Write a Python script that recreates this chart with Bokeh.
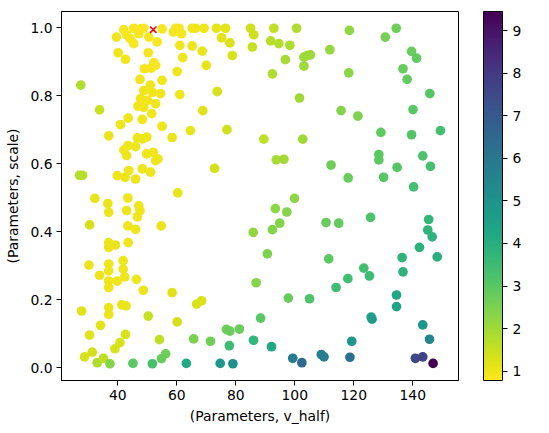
import numpy as np
from bokeh.plotting import figure
from bokeh.models import (ColumnDataSource, LinearColorMapper, ColorBar, FixedTicker,
                          Range1d, Label, NumeralTickFormatter)
from bokeh.palettes import Viridis256
from bokeh.embed import file_html
from bokeh.resources import INLINE

# ---- data ----
v_half = [
    39.5, 42.0, 43.0, 45.4, 44.1, 45.4, 47.1, 48.8, 50.5, 53.3, 47.7, 40.1, 42.6, 50.3, 52.2, 49.0, 51.3,
    47.5, 51.0, 48.8, 51.7, 47.7, 50.0, 46.8, 48.8, 51.5, 40.9, 43.5, 48.3, 36.9, 46.6, 49.8, 33.8, 27.4,
    55.0, 59.6, 60.7, 58.8, 61.6, 65.2, 66.3, 69.2, 73.4, 76.5, 85.0, 92.9, 100.6, 75.2, 78.0, 86.1, 85.6,
    91.8, 94.6, 98.3, 61.0, 65.2, 68.6, 78.8, 62.0, 70.0, 96.8, 103.1, 104.2, 103.1, 92.4, 60.1, 52.8,
    55.0, 54.5, 52.8, 61.0, 73.7, 101.6, 68.8, 55.0, 64.6, 77.0, 58.4, 89.5, 102.7,
    118.5, 134.4, 130.7, 111.9, 105.3, 139.6, 141.3, 118.3, 136.7, 138.1, 145.8, 115.7, 121.4, 140.1,
    129.2, 139.6, 149.4,
    128.5, 128.5, 143.4, 112.3, 134.7, 146.0, 118.1, 130.1, 140.3, 125.7, 110.6, 114.9, 145.4, 145.1,
    146.6, 142.3, 111.5, 136.4, 148.3, 123.4, 136.7,
    125.3, 118.0, 114.0, 105.0, 134.5, 134.5, 125.9, 126.2, 143.4, 119.3, 145.7, 109.0, 109.9, 118.7,
    102.4, 140.9, 143.4, 146.9,
    58.4, 50.3, 60.1, 66.7, 68.4, 86.9, 97.8, 88.4, 54.1, 65.7, 71.4, 76.8, 78.0, 81.2, 77.8, 86.0, 92.1,
    56.2, 54.8, 51.7, 63.2, 74.7, 79.0, 99.3,
    30.2, 36.9, 36.9, 41.8, 41.8, 33.8, 36.9, 36.9, 39.8, 42.3, 46.3, 48.6, 27.7, 36.9, 36.9, 41.3, 42.8,
    34.1, 30.4, 42.6, 40.7, 39.0, 28.7, 31.3, 33.0, 35.1, 37.3, 45.1,
    42.0, 43.4, 43.0, 48.3, 46.0, 49.7, 52.0, 52.8, 53.6, 27.0, 28.0, 39.8, 42.4, 43.7, 46.0, 48.3, 51.1,
    32.2, 36.6, 36.9, 43.4, 47.1, 47.5, 46.6, 43.0, 30.4, 43.4, 46.0, 54.7, 36.9, 36.9, 39.2, 43.5,
    93.7, 96.3, 72.8, 60.3, 99.9, 93.4, 97.3, 94.9, 85.9, 92.4, 90.7,
]
scale = [
    0.972, 0.994, 0.979, 0.998, 0.968, 0.953, 0.982, 0.998, 0.972, 0.958, 0.996, 0.926, 0.907, 0.926, 0.897, 0.879, 0.881,
    0.848, 0.831, 0.815, 0.810, 0.791, 0.786, 0.769, 0.766, 0.747, 0.715, 0.734, 0.730, 0.682, 0.676, 0.678, 0.758, 0.831,
    0.996, 0.998, 0.998, 0.987, 0.982, 0.998, 0.998, 0.998, 0.998, 0.998, 0.998, 0.998, 0.998, 0.970, 0.955, 0.979, 0.943,
    0.961, 0.953, 0.948, 0.948, 0.946, 0.931, 0.918, 0.912, 0.889, 0.906, 0.913, 0.918, 0.887, 0.864, 0.871, 0.889,
    0.845, 0.806, 0.776, 0.803, 0.812, 0.793, 0.756, 0.710, 0.697, 0.700, 0.677, 0.672, 0.672,
    0.992, 0.998, 0.972, 0.935, 0.920, 0.930, 0.910, 0.867, 0.879, 0.848, 0.806, 0.756, 0.740, 0.759,
    0.692, 0.685, 0.697,
    0.627, 0.611, 0.623, 0.596, 0.589, 0.592, 0.558, 0.560, 0.532, 0.442, 0.427, 0.425, 0.436, 0.405,
    0.385, 0.354, 0.320, 0.324, 0.326, 0.293, 0.282,
    0.270, 0.262, 0.236, 0.203, 0.214, 0.180, 0.149, 0.143, 0.126, 0.078, 0.084, 0.039, 0.032, 0.031,
    0.015, 0.028, 0.032, 0.013,
    0.221, 0.152, 0.135, 0.187, 0.197, 0.250, 0.205, 0.146, 0.083, 0.085, 0.078, 0.113, 0.108, 0.114, 0.065, 0.081, 0.062,
    0.041, 0.027, 0.012, 0.013, 0.013, 0.012, 0.028,
    0.302, 0.305, 0.285, 0.315, 0.290, 0.272, 0.255, 0.236, 0.255, 0.267, 0.260, 0.228, 0.167, 0.177, 0.157, 0.185, 0.182,
    0.125, 0.096, 0.098, 0.074, 0.056, 0.032, 0.046, 0.015, 0.028, 0.012, 0.013,
    0.640, 0.653, 0.624, 0.673, 0.650, 0.629, 0.633, 0.609, 0.614, 0.566, 0.566, 0.565, 0.560, 0.580, 0.555, 0.585, 0.575,
    0.498, 0.483, 0.457, 0.499, 0.476, 0.462, 0.444, 0.462, 0.420, 0.417, 0.407, 0.417, 0.368, 0.354, 0.361, 0.368,
    0.611, 0.613, 0.586, 0.514, 0.498, 0.468, 0.458, 0.425, 0.398, 0.406, 0.335,
]
cost = [
    0.95, 0.9, 0.9, 0.85, 0.9, 0.9, 0.85, 0.78, 0.85, 0.85, 0.82, 0.95, 0.95, 0.9, 0.9, 0.9, 0.9,
    0.95, 0.95, 0.95, 0.95, 0.95, 0.95, 0.95, 0.95, 0.95, 1.0, 1.0, 1.0, 1.05, 1.0, 1.0, 1.5, 1.8,
    0.85, 0.9, 0.9, 0.9, 0.9, 0.95, 0.95, 1.0, 1.1, 1.15, 1.4, 1.6, 1.8, 1.15, 1.25, 1.45, 1.5,
    1.7, 1.75, 1.85, 0.95, 1.0, 1.05, 1.3, 1.0, 1.1, 1.9, 2.0, 2.0, 2.05, 1.8, 1.0, 0.9,
    0.95, 0.95, 0.95, 1.0, 1.3, 2.0, 1.2, 1.0, 1.1, 1.4, 1.05, 1.6, 2.0,
    2.25, 2.7, 2.6, 2.15, 2.05, 2.8, 2.85, 2.3, 2.8, 2.85, 3.05, 2.4, 2.5, 3.0,
    2.9, 3.15, 3.35,
    2.95, 2.95, 3.2, 2.65, 3.1, 3.35, 2.8, 3.05, 3.35, 3.2, 2.8, 2.85, 3.7, 3.8,
    3.85, 3.9, 2.95, 3.8, 4.0, 3.4, 3.85,
    3.5, 3.4, 3.45, 3.2, 4.3, 4.4, 4.6, 4.6, 4.95, 4.85, 5.5, 5.7, 5.75, 6.2,
    6.5, 7.6, 7.7, 9.45,
    1.2, 1.5, 1.35, 1.25, 1.25, 2.4, 2.8, 3.0, 1.6, 2.5, 2.7, 2.7, 2.75, 2.75, 3.5, 3.7, 4.3,
    2.7, 2.8, 3.3, 4.2, 4.9, 5.1, 5.9,
    1.05, 1.0, 1.0, 1.0, 1.0, 1.05, 1.0, 1.0, 1.0, 1.0, 1.0, 1.05, 1.2, 1.05, 1.05, 1.05, 1.05,
    1.15, 1.2, 1.3, 1.3, 1.3, 1.3, 1.35, 1.8, 1.6, 2.4, 3.0,
    1.0, 1.0, 1.0, 1.0, 1.0, 1.0, 1.0, 1.0, 1.0, 1.75, 1.7, 1.0, 1.0, 1.0, 1.0, 1.0, 1.0,
    1.1, 1.05, 1.05, 1.0, 1.0, 1.0, 1.0, 1.0, 1.35, 1.0, 1.0, 1.05, 1.05, 1.05, 1.05, 1.0,
    1.9, 1.95, 1.35, 1.1, 2.3, 2.25, 2.35, 2.4, 2.2, 2.4, 2.5,
]
best_v_half = [52.0]
best_scale = [0.994]

x_ticks = [40, 60, 80, 100, 120, 140]
y_ticks = [0.0, 0.2, 0.4, 0.6, 0.8, 1.0]
cbar_ticks = [1, 2, 3, 4, 5, 6, 7, 8, 9]

x_label = "(Parameters, v_half)"
y_label = "(Parameters, scale)"
cbar_label = "('Calibration', 'Cost Function')"

FONT = "DejaVu Sans"
FS = "13.9px"

# ranges with 5% margins like matplotlib autoscale
xmin, xmax = min(v_half), max(v_half)
ymin, ymax = min(scale), max(scale)
xpad = 0.05 * (xmax - xmin)
ypad = 0.05 * (ymax - ymin)

src = ColumnDataSource(dict(v_half=v_half, scale=scale, cost=cost))
mapper = LinearColorMapper(palette=list(reversed(Viridis256)), low=min(cost), high=max(cost))

p = figure(width=549, height=433, output_backend="svg", toolbar_location=None,
           x_range=Range1d(xmin - xpad, xmax + xpad), y_range=Range1d(ymin - ypad, ymax + ypad),
           min_border_left=61, min_border_right=91, min_border_top=11, min_border_bottom=53)
p.grid.visible = False
p.outline_line_color = "black"
p.outline_line_alpha = 1.0
p.outline_line_width = 1
p.background_fill_color = "white"
p.border_fill_color = "white"

for ax in (p.xaxis[0], p.yaxis[0]):
    ax.major_tick_out = 5
    ax.major_tick_in = 0
    ax.minor_tick_out = 0
    ax.minor_tick_in = 0
    ax.major_label_standoff = 4
    ax.major_label_text_font = FONT
    ax.major_label_text_font_size = FS
    ax.major_label_text_color = "black"
    ax.axis_label_text_font = FONT
    ax.axis_label_text_font_size = FS
    ax.axis_label_text_font_style = "normal"
    ax.axis_label_text_color = "black"
    ax.axis_line_color = "black"
    ax.major_tick_line_color = "black"

p.xaxis.ticker = FixedTicker(ticks=x_ticks)
p.yaxis.ticker = FixedTicker(ticks=y_ticks)
p.yaxis.formatter = NumeralTickFormatter(format="0.0")
p.xaxis.axis_label = x_label
p.yaxis.axis_label = y_label
p.xaxis.axis_label_standoff = 5
p.yaxis.axis_label_standoff = 6

p.scatter(x="v_half", y="scale", source=src, size=9.7,
          fill_color={"field": "cost", "transform": mapper}, line_color=None)
p.scatter(x=best_v_half, y=best_scale, marker="x", size=9, line_color="red", line_width=1.6)

cb = ColorBar(color_mapper=mapper, location=(422, 0), width=19, height=369,
              padding=0, margin=0, ticker=FixedTicker(ticks=cbar_ticks),
              major_tick_in=0, major_tick_out=5, major_tick_line_color="black",
              minor_tick_line_color=None,
              label_standoff=5, major_label_text_font=FONT, major_label_text_font_size=FS,
              major_label_text_color="black", bar_line_color="black",
              border_line_color=None, background_fill_alpha=0)
p.add_layout(cb)

p.add_layout(Label(x=471, y=184.5, x_units="screen", y_units="screen", text=cbar_label,
                   angle=90, angle_units="deg", text_align="center", text_baseline="middle",
                   text_font=FONT, text_font_size=FS, text_color="black"))

open("out.html", "w").write(file_html(p, INLINE))
